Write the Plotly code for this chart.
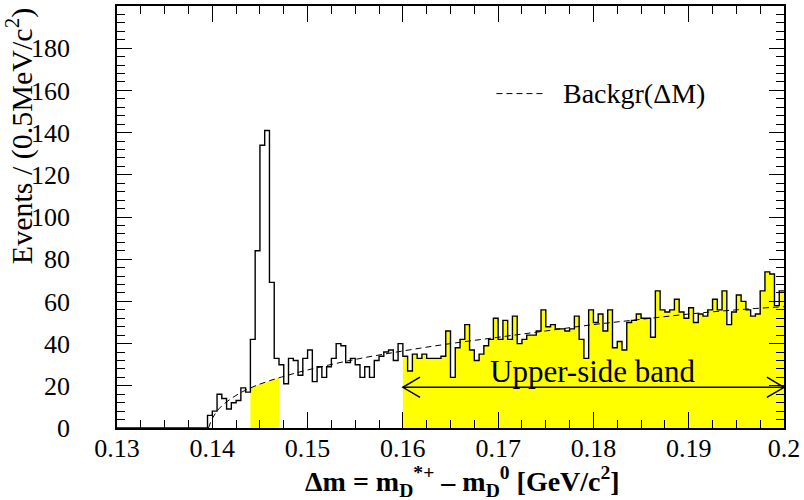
import numpy as np
import plotly.graph_objects as go

# ---------------- data ----------------
bin_lo = 0.13
bin_width = 0.0005
counts = [0] * 19 + [
    6, 8, 16, 14, 9, 12, 13, 19, 17,
    42, 84, 134, 141, 69, 33, 30, 21, 33, 32, 25, 33,
    37, 22, 29, 24, 29, 33, 40, 39, 31, 33,
    30, 24, 29, 24, 32, 34, 36, 37, 32, 40,
    34, 27, 35, 33, 35, 33, 33, 33, 34, 46,
    24, 38, 42, 49, 37, 32, 35, 39, 42, 52,
    42, 51, 42, 53, 40, 42, 44, 44, 46, 56,
    48, 49, 47, 47, 46, 47, 53, 42, 33, 56,
    50, 54, 46, 56, 38, 41, 37, 50, 51, 54,
    52, 52, 43, 65, 56, 55, 56, 61, 55, 52,
    57, 50, 54, 53, 56, 61, 56, 65, 49, 55,
    63, 60, 56, 53, 54, 65, 74, 73, 58, 65,
]

bkg_x = [0.1396, 0.1400, 0.1405, 0.1410, 0.1420, 0.1430, 0.1440, 0.1450, 0.1460, 0.1470,
         0.1500, 0.1550, 0.1600, 0.1650, 0.1700, 0.1750, 0.1800, 0.1850, 0.1900, 0.1950, 0.2000]
bkg_y = [0.0, 4.5, 8.0, 10.5, 14.0, 16.8, 19.0, 20.8, 22.4, 23.8,
         27.5, 32.5, 36.5, 40.0, 43.0, 46.0, 49.0, 51.5, 54.0, 56.0, 57.5]

band_lo_range = (0.144, 0.147)
band_hi_range = (0.16, 0.2)

x_ticks = [0.13, 0.14, 0.15, 0.16, 0.17, 0.18, 0.19, 0.2]
x_ticktext = ["0.13", "0.14", "0.15", "0.16", "0.17", "0.18", "0.19", "0.2"]
y_ticks = [0, 20, 40, 60, 80, 100, 120, 140, 160, 180]

# ---------------- build ----------------
n = len(counts)
edges = bin_lo + bin_width * np.arange(n + 1)
step_y = counts + [counts[-1]]

FONT = "Liberation Serif"
YELLOW = "#FFFF00"
W, H = 804, 500
ML, MR, MT, MB = 117, 19, 4, 72
PW, PH = W - ML - MR, H - MT - MB


def px(xp):
    return (xp - ML) / PW


def py(yp):
    return (H - MB - yp) / PH


fig = go.Figure()

# upper side band fill (under histogram)
i0 = int(round((band_hi_range[0] - bin_lo) / bin_width))
fig.add_trace(go.Scatter(
    x=edges[i0:], y=step_y[i0:], mode="lines", line=dict(shape="hv", width=0),
    fill="tozeroy", fillcolor=YELLOW, showlegend=False, hoverinfo="skip"))

# signal region fill (under background curve)
sel = [k for k, x in enumerate(bkg_x) if band_lo_range[0] - 1e-9 <= x <= band_lo_range[1] + 1e-9]
fig.add_trace(go.Scatter(
    x=[bkg_x[k] for k in sel], y=[bkg_y[k] for k in sel], mode="lines", line=dict(width=0),
    fill="tozeroy", fillcolor=YELLOW, showlegend=False, hoverinfo="skip"))

# histogram
fig.add_trace(go.Scatter(
    x=edges, y=step_y, mode="lines", line=dict(shape="hv", color="black", width=1.4),
    showlegend=False, hoverinfo="skip"))

# background curve
fig.add_trace(go.Scatter(
    x=bkg_x, y=bkg_y, mode="lines", name="Backgr(ΔM)",
    line=dict(color="black", width=1, dash="6px,4px", shape="spline"),
    showlegend=False, hoverinfo="skip"))

# legend (drawn manually to match the long dashed sample)
fig.add_shape(type="line", xref="paper", yref="paper", x0=px(497), x1=px(545), y0=py(92), y1=py(92),
              line=dict(color="black", width=1, dash="6px,4px"))
fig.add_annotation(x=px(562), y=py(92), xref="paper", yref="paper", xanchor="left", yanchor="middle",
                   text="Backgr(ΔM)", showarrow=False, font=dict(family=FONT, size=28, color="black"))

# upper-side band arrow
y_arrow = 19.3
fig.add_shape(type="line", x0=band_hi_range[0], x1=band_hi_range[1], y0=y_arrow, y1=y_arrow,
              xref="x", yref="y", line=dict(color="black", width=1.5))
fig.add_shape(type="path", xref="x", yref="y",
              path=f"M {band_hi_range[0]+0.0018},{y_arrow+4.8} L {band_hi_range[0]},{y_arrow} L {band_hi_range[0]+0.0018},{y_arrow-4.8}",
              line=dict(color="black", width=1.5))
fig.add_shape(type="path", xref="x", yref="y",
              path=f"M {band_hi_range[1]-0.0018},{y_arrow+4.8} L {band_hi_range[1]},{y_arrow} L {band_hi_range[1]-0.0018},{y_arrow-4.8}",
              line=dict(color="black", width=1.5))
fig.add_annotation(x=0.18, y=26.6, xref="x", yref="y", text="Upper-side band",
                   showarrow=False, font=dict(family=FONT, size=31, color="black"))

# axis titles as annotations
fig.add_annotation(x=px(19), y=1.0, xref="paper", yref="paper", xanchor="center", yanchor="top",
                   text="Events / (0.5MeV/c<sup>2</sup>)", textangle=-90, showarrow=False,
                   font=dict(family=FONT, size=30, color="black"))
fig.add_annotation(x=px(463), y=py(482), xref="paper", yref="paper", xanchor="center", yanchor="middle",
                   text="<b>Δm = m<sub>D</sub><sup>*+</sup> – m<sub>D</sub><sup>0</sup> [GeV/c<sup>2</sup>]</b>",
                   showarrow=False, font=dict(family=FONT, size=28, color="black"))

axis_common = dict(showline=True, linecolor="black", linewidth=1.5, mirror="ticks",
                   ticks="inside", tickcolor="black", tickwidth=1.2, showgrid=False, zeroline=False,
                   tickfont=dict(family=FONT, size=26, color="black"))

fig.update_xaxes(range=[0.13, 0.2], tickmode="array", tickvals=x_ticks, ticktext=x_ticktext,
                 ticklen=16, ticklabelstandoff=-4,
                 minor=dict(tickmode="linear", tick0=0.13, dtick=0.0025, ticklen=8, ticks="inside",
                            tickcolor="black", tickwidth=1.2, showgrid=False),
                 **axis_common)
fig.update_yaxes(range=[0, 200], tickmode="array", tickvals=y_ticks,
                 ticklen=15, ticklabelstandoff=40,
                 minor=dict(tickmode="linear", tick0=0, dtick=4, ticklen=8, ticks="inside",
                            tickcolor="black", tickwidth=1.2, showgrid=False),
                 **axis_common)

fig.update_layout(
    width=W, height=H,
    margin=dict(l=ML, r=MR, t=MT, b=MB),
    paper_bgcolor="white", plot_bgcolor="white",
    font=dict(family=FONT, color="black"),
    showlegend=False,
)

fig.write_html("out.html")
